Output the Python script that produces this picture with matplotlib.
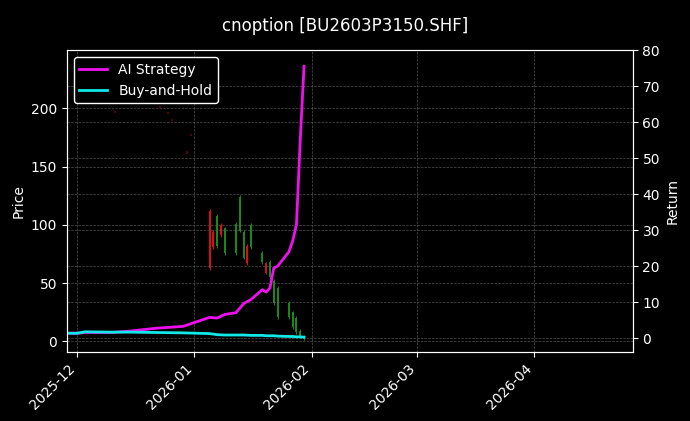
import matplotlib
matplotlib.use("Agg")
import matplotlib.pyplot as plt
import matplotlib.dates as mdates
import pandas as pd
import numpy as np

# candle data
c_dates = ["2026-01-05","2026-01-06","2026-01-07","2026-01-08","2026-01-09","2026-01-12","2026-01-13",
           "2026-01-14","2026-01-15","2026-01-16","2026-01-19","2026-01-20","2026-01-21","2026-01-22",
           "2026-01-23","2026-01-26","2026-01-27","2026-01-28","2026-01-29","2026-01-30"]
c_open  = [112, 94, 82, 100, 76, 76, 95, 72, 82, 81, 68, 67, 55, 33, 21, 21, 12, 8, 5, 3]
c_close = [63, 81, 108, 91, 97, 101, 124, 94, 67, 100, 76, 59, 68, 52, 46, 33, 25, 20, 9, 4]
# faint early candles
d_dates = ["2025-12-11","2025-12-23","2025-12-25","2025-12-26","2025-12-30","2025-12-31"]
d_price = [197, 201, 196, 190, 162, 177]

# return series
r_dates = ["2025-11-28","2025-12-01","2025-12-03","2025-12-10","2025-12-15","2025-12-22","2025-12-29","2026-01-05",
           "2026-01-07","2026-01-09","2026-01-12","2026-01-14","2026-01-16","2026-01-19","2026-01-20",
           "2026-01-21","2026-01-22","2026-01-23","2026-01-26","2026-01-27","2026-01-28","2026-01-29",
           "2026-01-30"]
ai_ret = [1.4, 1.4, 1.6, 1.6, 2.0, 2.8, 3.3, 5.8, 5.6, 6.6, 7.1, 9.6, 10.8, 13.5, 12.8, 14.0, 19.5, 20.0,
          24.0, 27.0, 31.6, 55.0, 75.5]
bh_ret = [1.4, 1.4, 1.8, 1.7, 1.7, 1.6, 1.5, 1.3, 1.0, 0.9, 0.9, 0.9, 0.8, 0.8, 0.7, 0.7, 0.7, 0.6,
          0.5, 0.5, 0.4, 0.4, 0.3]

plt.rcParams['font.family'] = ['DejaVu Sans']
fig = plt.figure(figsize=(6.9, 4.21), dpi=100, facecolor='black')
ax = fig.add_axes([0.097, 0.164, 0.82, 0.717], facecolor='black')
ax2 = ax.twinx()

cd = pd.to_datetime(c_dates)
for d, o, c in zip(cd, c_open, c_close):
    col = '#1a8a1a' if c >= o else '#e01010'
    lo, hi = min(o, c), max(o, c)
    ax.vlines(d, lo - 1.5, hi + 1.5, color=col, linewidth=0.7)
    ax.vlines(d, lo, hi, color=col, linewidth=1.4)
for d, p in zip(pd.to_datetime(d_dates), d_price):
    ax.vlines(d, p - 1, p + 1, color='#5a0a0a', linewidth=1.2)

rd = pd.to_datetime(r_dates)
ax2.plot(rd, ai_ret, color='#ee11ee', linewidth=2, label='AI Strategy')
ax2.plot(rd, bh_ret, color='#11e8e8', linewidth=2, label='Buy-and-Hold')

ax.set_ylim(-9, 250)
ax2.set_ylim(-3.8, 79.2)
ax.set_xlim(pd.Timestamp("2025-11-28 06:00"), pd.Timestamp("2026-04-27"))
ax.xaxis.set_major_locator(mdates.MonthLocator())
ax.xaxis.set_major_formatter(mdates.DateFormatter('%Y-%m'))
ax.set_yticks([0, 50, 100, 150, 200])
ax2.set_yticks(range(0, 81, 10))
for lab in ax.get_xticklabels():
    lab.set_rotation(45); lab.set_ha('right')

for a in (ax, ax2):
    a.tick_params(colors='white', labelsize=10)
    for s in a.spines.values():
        s.set_color('white')
ax.grid(True, color='#666666', linestyle='--', linewidth=0.5, alpha=0.8)
ax2.grid(True, axis='y', color='#666666', linestyle='--', linewidth=0.5, alpha=0.8)
ax.set_ylabel('Price', color='white')
ax2.set_ylabel('Return', color='white')
fig.suptitle('cnoption [BU2603P3150.SHF]', color='white', fontsize=12, y=0.96)
leg = ax2.legend(loc='upper left', facecolor='black', edgecolor='white', framealpha=1)
for t in leg.get_texts():
    t.set_color('white')
fig.savefig('out.png', dpi=100, facecolor='black')
